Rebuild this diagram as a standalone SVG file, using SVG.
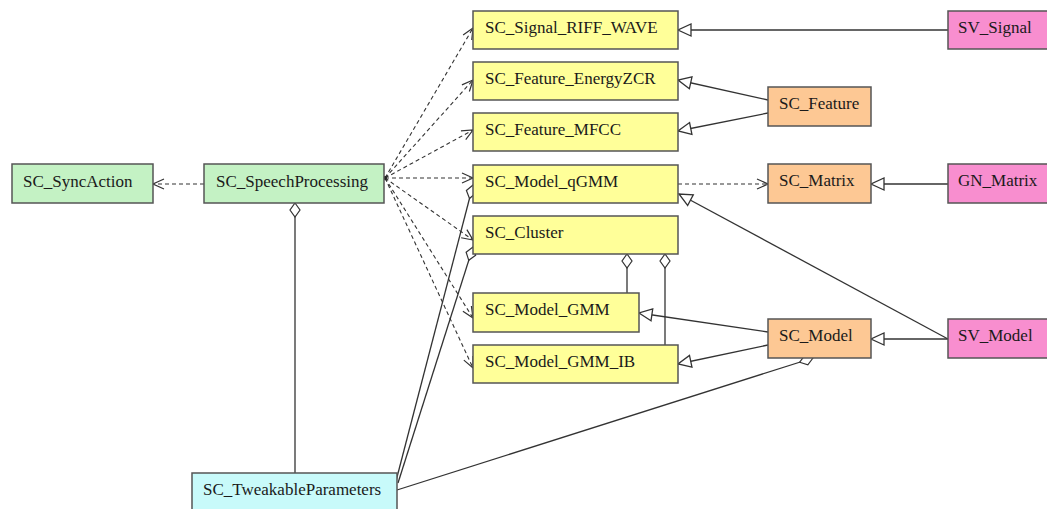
<svg xmlns="http://www.w3.org/2000/svg" width="1047" height="509" viewBox="0 0 1047 509">
  <style>
    .box { stroke: #555; stroke-width: 1.5; }
    .green { fill: #c4f2c4; }
    .yellow { fill: #ffff99; }
    .orange { fill: #fdc894; }
    .pink { fill: #f88ecf; }
    .cyan { fill: #c8fafa; }
    .label { font-family: "Liberation Serif", "Times New Roman", serif; font-size: 17px; fill: #1a1a1a; }
    .dep { stroke: #333; stroke-width: 1.1; fill: none; stroke-dasharray: 4 3; marker-end: url(#open); }
    .gen { stroke: #333; stroke-width: 1.3; fill: none; marker-end: url(#tri); }
    .agg { stroke: #333; stroke-width: 1.3; fill: none; marker-start: url(#diamond); }
  </style>
  <defs>
    <marker id="open" markerUnits="userSpaceOnUse" markerWidth="14" markerHeight="14" viewBox="-1 -7 13 14" refX="11" refY="0" orient="auto">
      <path d="M0,-5 L11,0 L0,5" fill="none" stroke="#333" stroke-width="1.2"/>
    </marker>
    <marker id="tri" markerUnits="userSpaceOnUse" markerWidth="16" markerHeight="16" viewBox="-1 -8 15 16" refX="13" refY="0" orient="auto">
      <path d="M0,-6 L13,0 L0,6 Z" fill="#fff" stroke="#333" stroke-width="1.3"/>
    </marker>
    <marker id="diamond" markerUnits="userSpaceOnUse" markerWidth="16" markerHeight="12" viewBox="-1 -6 16 12" refX="0" refY="0" orient="auto">
      <path d="M0,0 L7,-5 L14,0 L7,5 Z" fill="#fff" stroke="#333" stroke-width="1.2"/>
    </marker>
  </defs>

  <rect width="1047" height="509" fill="#fff"/>

  <g id="connectors">
    <!-- dependencies -->
    <line class="dep" x1="204" y1="184" x2="153" y2="184"/>
    <line class="dep" x1="385" y1="178" x2="473" y2="28"/>
    <line class="dep" x1="385" y1="178" x2="473" y2="80"/>
    <line class="dep" x1="385" y1="178" x2="473" y2="130"/>
    <line class="dep" x1="385" y1="178" x2="473" y2="178"/>
    <line class="dep" x1="385" y1="178" x2="473" y2="240"/>
    <line class="dep" x1="385" y1="178" x2="473" y2="318"/>
    <line class="dep" x1="385" y1="178" x2="473" y2="368"/>
    <line class="dep" x1="678" y1="184" x2="768" y2="184"/>
    <circle cx="385" cy="178" r="2" fill="#222"/>

    <!-- aggregations -->
    <line class="agg" x1="295" y1="203" x2="295" y2="473"/>
    <line class="agg" x1="473" y1="185" x2="396" y2="481"/>
    <line class="agg" x1="473" y1="247" x2="398" y2="483"/>
    <line class="agg" x1="813" y1="358" x2="397" y2="490"/>
    <line class="agg" x1="627" y1="254" x2="627" y2="293"/>
    <line class="agg" x1="665" y1="254" x2="665" y2="345"/>

    <!-- generalizations -->
    <line class="gen" x1="948" y1="30" x2="678" y2="30"/>
    <line class="gen" x1="768" y1="100" x2="678" y2="80"/>
    <line class="gen" x1="768" y1="113" x2="678" y2="131"/>
    <line class="gen" x1="948" y1="184" x2="871" y2="184"/>
    <line class="gen" x1="948" y1="339" x2="871" y2="339"/>
    <line class="gen" x1="948" y1="339" x2="679" y2="194"/>
    <line class="gen" x1="768" y1="332" x2="639" y2="313"/>
    <line class="gen" x1="768" y1="345" x2="678" y2="364"/>
  </g>

  <g id="SC_SyncAction">
    <rect class="box green" x="12" y="164" width="141" height="39"/>
    <text class="label" x="23" y="187">SC_SyncAction</text>
  </g>
  <g id="SC_SpeechProcessing">
    <rect class="box green" x="204" y="164" width="180" height="39"/>
    <text class="label" x="216" y="187">SC_SpeechProcessing</text>
  </g>
  <g id="SC_Signal_RIFF_WAVE">
    <rect class="box yellow" x="473" y="11" width="205" height="38"/>
    <text class="label" x="485" y="33">SC_Signal_RIFF_WAVE</text>
  </g>
  <g id="SC_Feature_EnergyZCR">
    <rect class="box yellow" x="473" y="62" width="205" height="38"/>
    <text class="label" x="485" y="84">SC_Feature_EnergyZCR</text>
  </g>
  <g id="SC_Feature_MFCC">
    <rect class="box yellow" x="473" y="113" width="205" height="38"/>
    <text class="label" x="485" y="135">SC_Feature_MFCC</text>
  </g>
  <g id="SC_Model_qGMM">
    <rect class="box yellow" x="473" y="165" width="205" height="38"/>
    <text class="label" x="485" y="187">SC_Model_qGMM</text>
  </g>
  <g id="SC_Cluster">
    <rect class="box yellow" x="473" y="216" width="205" height="38"/>
    <text class="label" x="485" y="238">SC_Cluster</text>
  </g>
  <g id="SC_Model_GMM">
    <rect class="box yellow" x="473" y="293" width="166" height="39"/>
    <text class="label" x="485" y="315">SC_Model_GMM</text>
  </g>
  <g id="SC_Model_GMM_IB">
    <rect class="box yellow" x="473" y="345" width="205" height="38"/>
    <text class="label" x="485" y="367">SC_Model_GMM_IB</text>
  </g>
  <g id="SV_Signal">
    <rect class="box pink" x="948" y="11" width="110" height="38"/>
    <text class="label" x="958" y="33">SV_Signal</text>
  </g>
  <g id="SC_Feature">
    <rect class="box orange" x="768" y="87" width="103" height="39"/>
    <text class="label" x="779" y="109">SC_Feature</text>
  </g>
  <g id="SC_Matrix">
    <rect class="box orange" x="768" y="164" width="103" height="39"/>
    <text class="label" x="779" y="186">SC_Matrix</text>
  </g>
  <g id="GN_Matrix">
    <rect class="box pink" x="948" y="164" width="110" height="39"/>
    <text class="label" x="958" y="186">GN_Matrix</text>
  </g>
  <g id="SC_Model">
    <rect class="box orange" x="768" y="319" width="103" height="39"/>
    <text class="label" x="779" y="341">SC_Model</text>
  </g>
  <g id="SV_Model">
    <rect class="box pink" x="948" y="319" width="110" height="39"/>
    <text class="label" x="958" y="341">SV_Model</text>
  </g>
  <g id="SC_TweakableParameters">
    <rect class="box cyan" x="192" y="473" width="205" height="45"/>
    <text class="label" x="203" y="495">SC_TweakableParameters</text>
  </g>
</svg>
